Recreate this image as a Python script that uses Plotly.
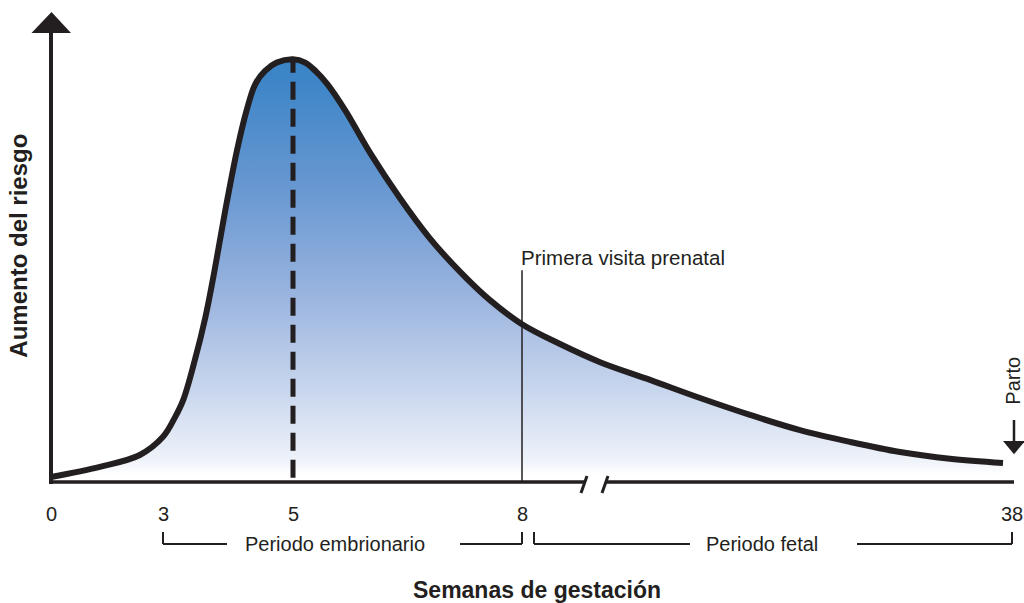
import numpy as np
import plotly.graph_objects as go

# ---------------- data ----------------
week_ticks = [0, 3, 5, 8, 38]
week_tick_labels = ["0", "3", "5", "8", "38"]
tick_pos = [51, 163, 293, 522, 1012]          # display position of each tick on the broken axis

curve_weeks = [0, 1.31, 2.38, 3.0, 3.18, 3.31, 3.49, 3.65, 3.80, 3.95, 4.14, 4.28, 4.42,
               4.57, 4.75, 5.0, 5.16, 5.30, 5.45, 5.68, 6.01, 6.40, 6.79, 7.19, 7.58,
               8.0, 10.33, 12.78, 15.84, 18.9, 21.96, 25.02, 28.08, 31.14, 34.2, 37.45]
curve_risk = [1.2, 3.6, 6.4, 10.7, 15.2, 19.4, 28.9, 38.9, 50.7, 63.7, 78.7, 87.7, 94.3,
              97.4, 99.4, 100.2, 99.4, 97.3, 94.3, 88.2, 78.0, 67.3, 57.8, 49.8, 43.1,
              37.4, 32.7, 28.4, 24.2, 19.9, 15.9, 12.3, 9.5, 7.1, 5.5, 4.5]

peak_week = 5
first_visit_week = 8
delivery_week = 38

periods = ["Periodo embrionario", "Periodo fetal"]

INK = "#231f20"
FONT = "Liberation Sans, Arial, Helvetica, sans-serif"


def pos(w):
    return np.interp(w, week_ticks, tick_pos)


x_curve = pos(np.array(curve_weeks))

fig = go.Figure()

fig.add_trace(go.Scatter(
    x=x_curve, y=curve_risk, mode="lines",
    line=dict(color=INK, width=6, shape="spline", smoothing=1.0),
    fill="tozeroy",
    fillgradient=dict(
        type="vertical", start=0, stop=100,
        colorscale=[[0.0, "#ffffff"], [0.017, "#ffffff"], [0.052, "#eef2f9"],
                    [0.206, "#cbd8ee"], [0.443, "#9ab4df"], [0.68, "#6b99d2"],
                    [0.94, "#3f86c8"], [1.0, "#3a84c6"]]),
    hoverinfo="skip", showlegend=False,
))

shapes = []
# dashed peak line
shapes.append(dict(type="line", x0=pos(peak_week), x1=pos(peak_week), y0=1.0, y1=99.5,
                   line=dict(color=INK, width=5, dash="18px,9px"), layer="above"))
# first prenatal visit line
shapes.append(dict(type="line", x0=pos(first_visit_week), x1=pos(first_visit_week), y0=0, y1=50.2,
                   line=dict(color=INK, width=1.5)))
# y axis with arrow
shapes.append(dict(type="line", x0=pos(0), x1=pos(0), y0=-0.5, y1=107,
                   line=dict(color=INK, width=4)))
ax0 = pos(0)
shapes.append(dict(type="path",
                   path=f"M {ax0-19.5},106.4 L {ax0+20},106.4 L {ax0+0.5},111.4 Z",
                   fillcolor=INK, line=dict(color=INK, width=0)))
# x axis with break
shapes.append(dict(type="line", x0=pos(0), x1=584, y0=0, y1=0, line=dict(color=INK, width=3.5)))
shapes.append(dict(type="line", x0=606, x1=pos(delivery_week) + 2, y0=0, y1=0,
                   line=dict(color=INK, width=3.5)))
for bx in (581, 602):
    shapes.append(dict(type="line", x0=bx, x1=bx + 6, y0=-2.6, y1=1.4,
                       line=dict(color=INK, width=3)))
# brackets
yb, yt = -14.7, -11.85
def bracket_line(xa, xb):
    shapes.append(dict(type="line", x0=xa, x1=xb, y0=yb, y1=yb, line=dict(color=INK, width=2)))
def bracket_tick(xa):
    shapes.append(dict(type="line", x0=xa, x1=xa, y0=yb, y1=yt, line=dict(color=INK, width=2)))

bracket_tick(pos(3)); bracket_line(pos(3), 227)
bracket_line(460, pos(8)); bracket_tick(pos(8))
bracket_tick(pos(8) + 12); bracket_line(pos(8) + 12, 690)
bracket_line(857, pos(38)); bracket_tick(pos(38))
# delivery arrow
dx = 1014
shapes.append(dict(type="line", x0=dx, x1=dx, y0=9.7, y1=14.7, line=dict(color=INK, width=2.5)))
shapes.append(dict(type="path", path=f"M {dx-11},9.7 L {dx+11},9.7 L {dx},6.6 Z",
                   fillcolor=INK, line=dict(color=INK, width=0)))

annotations = []
for w, lab in zip(week_ticks, week_tick_labels):
    annotations.append(dict(x=pos(w), y=-7.6, text=lab, showarrow=False,
                            xanchor="center", yanchor="middle",
                            font=dict(family=FONT, size=20, color=INK)))
annotations.append(dict(x=335, y=yb, text=periods[0], showarrow=False,
                        xanchor="center", yanchor="middle",
                        font=dict(family=FONT, size=20, color=INK)))
annotations.append(dict(x=762, y=yb, text=periods[1], showarrow=False,
                        xanchor="center", yanchor="middle",
                        font=dict(family=FONT, size=20, color=INK)))
annotations.append(dict(x=pos(first_visit_week) - 3, y=53.1, text="Primera visita prenatal",
                        showarrow=False, xanchor="left", yanchor="middle",
                        font=dict(family=FONT, size=20.5, color=INK)))
annotations.append(dict(x=1013.5, y=23.9, text="Parto", textangle=-90, showarrow=False,
                        xanchor="center", yanchor="middle", borderpad=0,
                        font=dict(family=FONT, size=20, color=INK)))
annotations.append(dict(x=537, y=-25.5, text="<b>Semanas de gestación</b>", showarrow=False,
                        xanchor="center", yanchor="middle",
                        font=dict(family=FONT, size=23, color=INK)))
annotations.append(dict(x=19, y=56, text="<b>Aumento del riesgo</b>", textangle=-90,
                        showarrow=False, xanchor="center", yanchor="middle",
                        font=dict(family=FONT, size=24, color=INK)))

fig.update_layout(
    width=1024, height=603,
    margin=dict(l=0, r=0, t=0, b=0),
    paper_bgcolor="white", plot_bgcolor="white",
    xaxis=dict(range=[0, 1024], visible=False, fixedrange=True),
    yaxis=dict(range=[-28.67, 114.22], visible=False, fixedrange=True),
    shapes=shapes, annotations=annotations,
    showlegend=False,
)

# remove the default 8px page margin so the 1024x603 figure fills the window exactly
fig.write_html(
    "out.html",
    config={"displayModeBar": False},
    post_script="document.body.style.margin='0';document.body.style.overflow='hidden';",
)
